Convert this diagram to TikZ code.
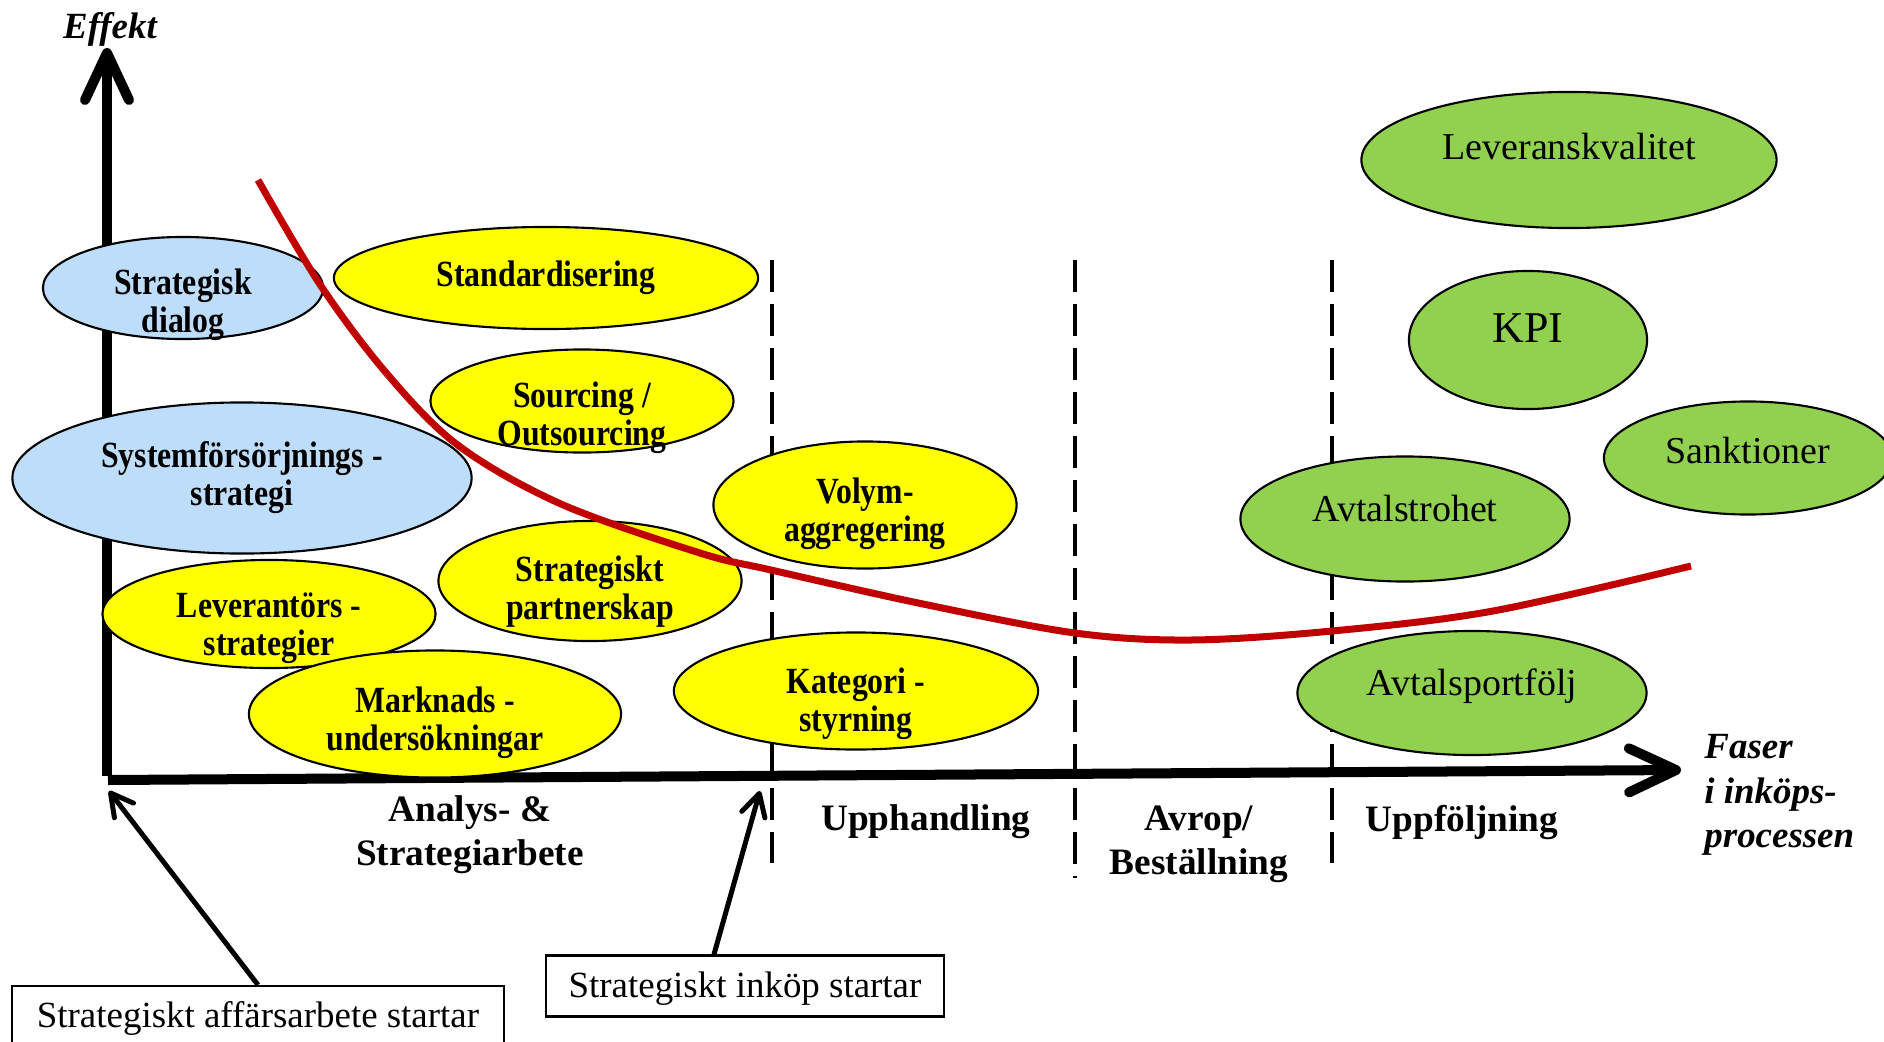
\documentclass[tikz,border=0pt]{standalone}
\usepackage{fontspec}
\setmainfont{Liberation Serif}
\newfontfamily\condserif[FakeStretch=0.86]{Liberation Serif}
\usetikzlibrary{shapes.geometric,arrows.meta}
\definecolor{skyblue}{HTML}{BDDDFA}
\definecolor{lemon}{HTML}{FFFF00}
\definecolor{leaf}{HTML}{92D050}
\definecolor{curvered}{HTML}{C00000}

\begin{document}
\begin{tikzpicture}[x=0.01cm,y=-0.01cm,
    bubble/.style={ellipse, draw, line width=0.6pt, inner sep=0pt},
    plan/.style={bubble, fill=skyblue},
    strat/.style={bubble, fill=lemon},
    follow/.style={bubble, fill=leaf},
    boldtxt/.style={align=center, inner sep=0pt, font=\condserif\bfseries\fontsize{10.5}{10.8}\selectfont},
    plaintxt/.style={align=center, inner sep=0pt, font=\fontsize{10.8}{12}\selectfont},
    phase/.style={align=center, font=\bfseries\fontsize{10.6}{12.6}\selectfont},
    divider/.style={line width=0.04cm, dash pattern=on 0.32cm off 0.12cm},
    axis/.style={line width=0.1cm, -{Straight Barb[length=0.47cm,width=0.44cm,round]}},
    callout/.style={draw, line width=0.6pt, inner sep=0pt, font=\fontsize{10.5}{12}\selectfont},
    pointer/.style={line width=0.05cm, -{Straight Barb[length=0.22cm,width=0.24cm,round]}}]
  \useasboundingbox (0,0) rectangle (1884,1042);

  % axes
  \coordinate (o) at (107,776);
  \coordinate (ytip) at (107,48);
  \coordinate (xo) at (108,780);
  \coordinate (xtip) at (1681,770);
  \draw[axis] (o) -- (ytip);
  \draw[axis] (xo) -- (xtip);
  \node[font=\bfseries\itshape\fontsize{10.5}{12}\selectfont] (effekt) at (110,29) {Effekt};
  \node[anchor=west, align=left, font=\bfseries\itshape\fontsize{10.5}{12.6}\selectfont] (faser) at (1692,795)
    {Faser\\i inköps-\\processen};

  % phase borders
  \foreach \x/\b [count=\i] in {772/863, 1075/878, 1332/863} {
    \coordinate (d\i t) at (\x,260);
    \coordinate (d\i b) at (\x,\b);
    \draw[divider] (d\i t) -- (d\i b);
  }

  % phases
  \node[phase] (analys) at (470,835) {Analys- \&\\Strategiarbete};
  \node[phase] (upph) at (926,822) {Upphandling};
  \node[phase] (avrop) at (1199,844) {Avrop/\\Beställning};
  \node[phase] (uppf) at (1462,822) {Uppföljning};

  % activities
  \node[plan, minimum width=2.8cm, minimum height=1.02cm] (dialog) at (183,288) {};
  \node[boldtxt] (dialog-t) at ([yshift=-0.17cm]dialog) {Strategisk\\dialog};
  \node[strat, minimum width=4.24cm, minimum height=1.02cm] (standard) at (546,278) {};
  \node[boldtxt] (standard-t) at (standard) {Standardisering};
  \node[strat, minimum width=3.03cm, minimum height=1.03cm] (sourcing) at (582,401) {};
  \node[boldtxt] (sourcing-t) at ([yshift=-0.17cm]sourcing) {Sourcing /\\Outsourcing};
  \node[plan, minimum width=4.59cm, minimum height=1.51cm] (system) at (242,478) {};
  \node[boldtxt] (system-t) at (system) {Systemförsörjnings -\\strategi};
  \node[strat, minimum width=3.33cm, minimum height=1.08cm] (levstrat) at (269,614) {};
  \node[boldtxt] (levstrat-t) at ([yshift=-0.14cm]levstrat) {Leverantörs -\\strategier};
  \node[strat, minimum width=3.03cm, minimum height=1.2cm] (partner) at (590,581) {};
  \node[boldtxt] (partner-t) at ([yshift=-0.11cm]partner) {Strategiskt\\partnerskap};
  \node[strat, minimum width=3.72cm, minimum height=1.27cm] (marknad) at (435,714) {};
  \node[boldtxt] (marknad-t) at ([yshift=-0.09cm]marknad) {Marknads -\\undersökningar};
  \node[strat, minimum width=3.03cm, minimum height=1.27cm] (volym) at (865,505) {};
  \node[boldtxt] (volym-t) at ([yshift=-0.09cm]volym) {Volym-\\aggregering};
  \node[strat, minimum width=3.64cm, minimum height=1.17cm] (kategori) at (856,691) {};
  \node[boldtxt] (kategori-t) at ([yshift=-0.13cm]kategori) {Kategori -\\styrning};
  \node[follow, minimum width=4.15cm, minimum height=1.36cm] (kvalitet) at (1569,160) {};
  \node[plaintxt] (kvalitet-t) at ([yshift=0.13cm]kvalitet) {Leveranskvalitet};
  \node[follow, minimum width=2.38cm, minimum height=1.38cm] (kpi) at (1528,340) {};
  \node[plaintxt, font=\fontsize{12.5}{14}\selectfont] (kpi-t) at ([yshift=0.12cm]kpi) {KPI};
  \node[follow, minimum width=2.88cm, minimum height=1.13cm] (sanktion) at (1748,458) {};
  \node[plaintxt] (sanktion-t) at ([yshift=0.07cm]sanktion) {Sanktioner};
  \node[follow, minimum width=3.29cm, minimum height=1.25cm] (trohet) at (1405,519) {};
  \node[plaintxt] (trohet-t) at ([yshift=0.1cm]trohet) {Avtalstrohet};
  \node[follow, minimum width=3.49cm, minimum height=1.24cm] (portfolj) at (1472,693) {};
  \node[plaintxt] (portfolj-t) at ([yshift=0.07cm]portfolj) {Avtalsportfölj};

  % effect curve
  \draw[curvered, line width=0.07cm] plot[smooth, tension=0.55] coordinates
    {(258,180) (321,286) (388,375) (459,446) (561,504) (700,553) (771,570) (923,604)
     (1075,633) (1191,640) (1332,631) (1493,611) (1691,566)};

  % start markers
  \node[callout, minimum width=4.91cm, minimum height=0.64cm] (affar) at (258,1018) {Strategiskt affärsarbete startar};
  \node[callout, minimum width=3.98cm, minimum height=0.61cm] (inkop) at (745,986) {};
  \node[font=\fontsize{10.5}{12}\selectfont, inner sep=0pt] (inkop-t) at ([yshift=-0.03cm]inkop) {Strategiskt inköp startar};
  \coordinate (affartip) at (109,791);
  \coordinate (inkoptip) at (760,791);
  \draw[pointer] (affar.north) -- (affartip);
  \draw[pointer] ([xshift=-0.31cm]inkop.north) -- (inkoptip);
\end{tikzpicture}
\end{document}
